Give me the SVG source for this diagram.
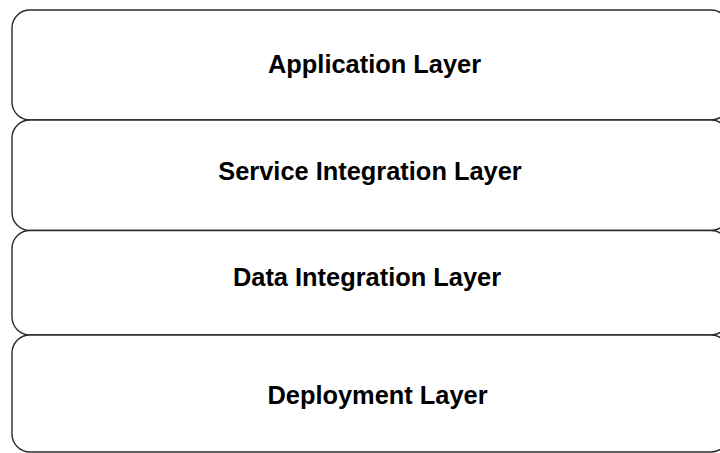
<svg xmlns="http://www.w3.org/2000/svg" width="720" height="453" viewBox="0 0 720 453">
  <style>
    .layer { fill: #ffffff; stroke: #2a2a2a; stroke-width: 1.4; }
    .label { font-family: "Liberation Sans", Arial, sans-serif; font-weight: bold; font-size: 25.4px; fill: #000000; text-anchor: middle; }
  </style>
  <rect width="720" height="453" fill="#ffffff"/>
  <g id="application-layer">
    <rect class="layer" x="12" y="10" width="717" height="110" rx="18" ry="18"/>
    <text class="label" x="374.5" y="73">Application Layer</text>
  </g>
  <g id="service-integration-layer">
    <rect class="layer" x="12" y="120" width="717" height="110.5" rx="18" ry="18"/>
    <text class="label" x="370" y="180">Service Integration Layer</text>
  </g>
  <g id="data-integration-layer">
    <rect class="layer" x="12" y="230.5" width="717" height="104.5" rx="18" ry="18"/>
    <text class="label" x="367" y="286">Data Integration Layer</text>
  </g>
  <g id="deployment-layer">
    <rect class="layer" x="12" y="335" width="717" height="117" rx="18" ry="18"/>
    <text class="label" x="377.5" y="404">Deployment Layer</text>
  </g>
  <g id="connectors"></g>
</svg>
